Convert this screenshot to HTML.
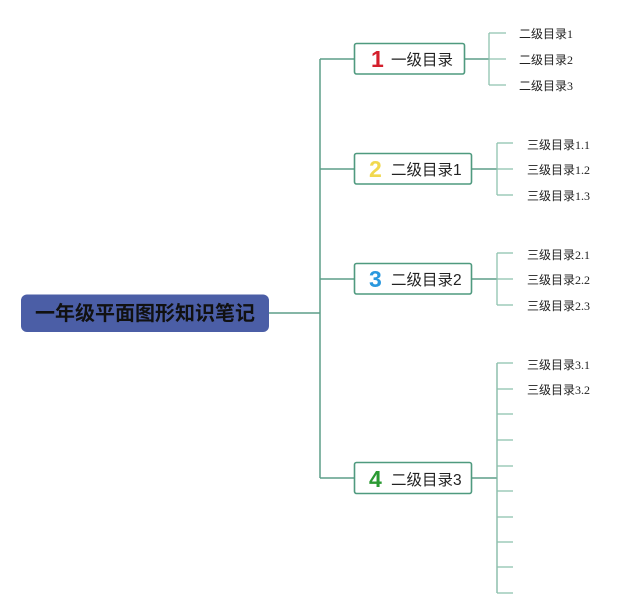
<!DOCTYPE html>
<html><head><meta charset="utf-8"><style>
html,body{margin:0;padding:0;background:#fff;}
svg{display:block;}
.l3{font-family:"Liberation Serif","Noto Sans CJK SC",serif;font-size:12px;fill:#222;}
.n{font-family:"Liberation Sans","Noto Sans CJK SC",sans-serif;font-size:15.5px;fill:#222;}
.d{font-family:"Liberation Sans","DejaVu Sans",sans-serif;font-size:23px;font-weight:bold;}
</style></head><body>
<svg width="640" height="614" viewBox="0 0 640 614" xmlns="http://www.w3.org/2000/svg">
<rect width="640" height="614" fill="#fff"/>
<!-- main connectors -->
<g stroke="#5d9e88" stroke-width="1.5" fill="none">
<line x1="269" y1="313" x2="320" y2="313"/>
<line x1="320" y1="59" x2="320" y2="478"/>
<line x1="320" y1="59" x2="354" y2="59"/>
<line x1="320" y1="169" x2="354" y2="169"/>
<line x1="320" y1="279" x2="354" y2="279"/>
<line x1="320" y1="478" x2="354" y2="478"/>
<line x1="465" y1="59" x2="489" y2="59"/>
<line x1="472" y1="169" x2="497" y2="169"/>
<line x1="472" y1="279" x2="497" y2="279"/>
<line x1="472" y1="478" x2="497" y2="478"/>
</g>
<g stroke="#8fc2af" stroke-width="1.3" fill="none">
<line x1="489" y1="33" x2="489" y2="85"/>
<line x1="489" y1="33" x2="506" y2="33"/>
<line x1="489" y1="59" x2="506" y2="59"/>
<line x1="489" y1="85" x2="506" y2="85"/>
<line x1="497" y1="143" x2="497" y2="195"/>
<line x1="497" y1="143" x2="513" y2="143"/>
<line x1="497" y1="169" x2="513" y2="169"/>
<line x1="497" y1="195" x2="513" y2="195"/>
<line x1="497" y1="253" x2="497" y2="305"/>
<line x1="497" y1="253" x2="513" y2="253"/>
<line x1="497" y1="279" x2="513" y2="279"/>
<line x1="497" y1="305" x2="513" y2="305"/>
<line x1="497" y1="363" x2="497" y2="593" stroke="#7db5a0"/>
<line x1="497" y1="363" x2="513" y2="363"/>
<line x1="497" y1="389" x2="513" y2="389"/>
<line x1="497" y1="414" x2="513" y2="414"/>
<line x1="497" y1="440" x2="513" y2="440"/>
<line x1="497" y1="466" x2="513" y2="466"/>
<line x1="497" y1="491" x2="513" y2="491"/>
<line x1="497" y1="517" x2="513" y2="517"/>
<line x1="497" y1="542" x2="513" y2="542"/>
<line x1="497" y1="567" x2="513" y2="567"/>
<line x1="497" y1="593" x2="513" y2="593"/>
</g>
<!-- root -->
<rect x="21" y="294.5" width="248" height="37.5" rx="6" ry="6" fill="#4b5ea6"/>
<text x="145" y="320" text-anchor="middle" font-family="'Liberation Sans','Noto Sans CJK SC',sans-serif" font-size="20" font-weight="bold" fill="#111">一年级平面图形知识笔记</text>
<!-- level 1 nodes -->
<g fill="#fff" stroke="#4f9a7f" stroke-width="1.6">
<rect x="354.5" y="43.5" width="110" height="30.5" rx="2"/>
<rect x="354.5" y="153.5" width="117" height="30.5" rx="2"/>
<rect x="354.5" y="263.5" width="117" height="30.5" rx="2"/>
<rect x="354.5" y="462.5" width="117" height="31" rx="2"/>
</g>
<text class="d" x="371" y="67" fill="#d41f2c">1</text>
<text class="n" x="391" y="65">一级目录</text>
<text class="d" x="369" y="177" fill="#f1d84e">2</text>
<text class="n" x="391" y="175">二级目录1</text>
<text class="d" x="369" y="287" fill="#2a98de">3</text>
<text class="n" x="391" y="285">二级目录2</text>
<text class="d" x="369" y="487" fill="#2b9a33">4</text>
<text class="n" x="391" y="485">二级目录3</text>
<!-- leaves -->
<text class="l3" x="519" y="38">二级目录1</text>
<text class="l3" x="519" y="64">二级目录2</text>
<text class="l3" x="519" y="90">二级目录3</text>
<text class="l3" x="527" y="149">三级目录1.1</text>
<text class="l3" x="527" y="174">三级目录1.2</text>
<text class="l3" x="527" y="200">三级目录1.3</text>
<text class="l3" x="527" y="259">三级目录2.1</text>
<text class="l3" x="527" y="284">三级目录2.2</text>
<text class="l3" x="527" y="310">三级目录2.3</text>
<text class="l3" x="527" y="369">三级目录3.1</text>
<text class="l3" x="527" y="394">三级目录3.2</text>
</svg>
</body></html>
